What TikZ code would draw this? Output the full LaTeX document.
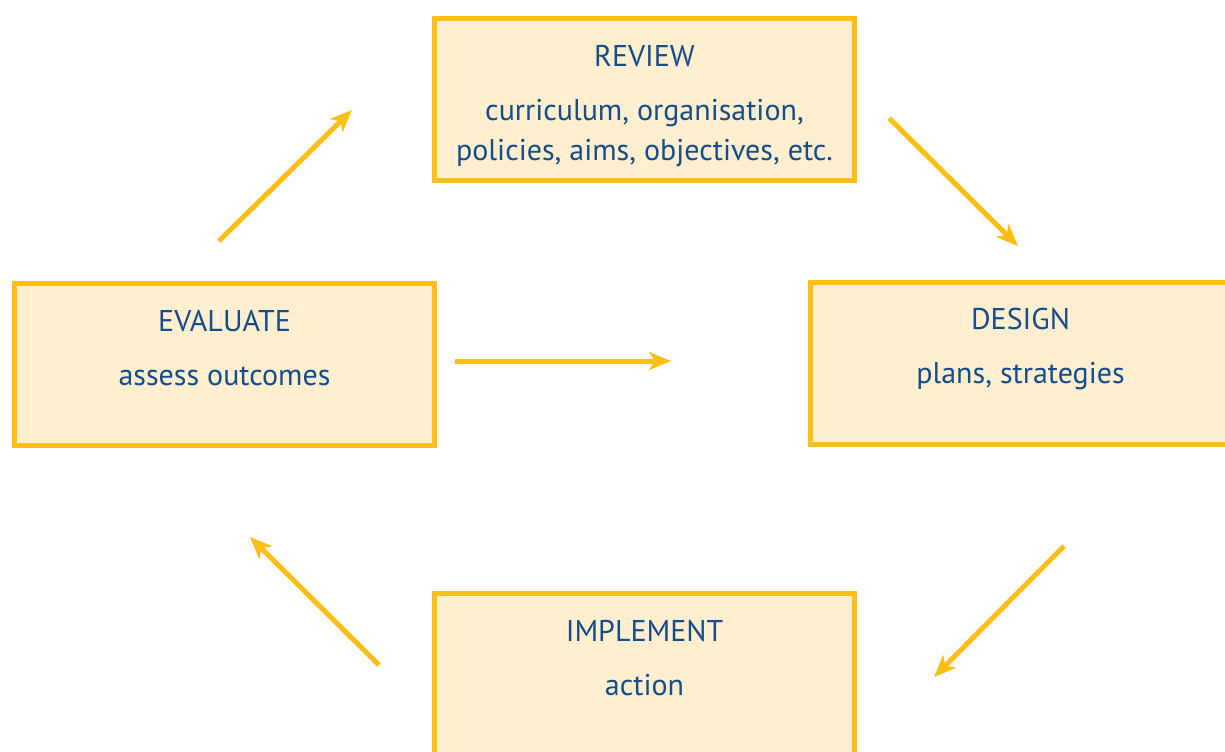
\documentclass[tikz,border=0pt]{standalone}
\usepackage{fontspec}
\setmainfont{PT Sans}
\usetikzlibrary{arrows.meta, positioning}

\definecolor{gold}{RGB}{253,190,22}
\definecolor{cream}{RGB}{255,239,207}
\definecolor{navy}{RGB}{20,76,140}

\tikzset{
  stage/.style = {draw = gold, fill = cream, line width = 2.5pt, inner sep = 0pt,
                  text = navy, font = \fontsize{15}{20}\selectfont},
  cyc/.style = {draw = gold, line width = 2.5pt, -{Stealth[length = 11pt, width = 9pt, inset = 3pt]}}
}
\newcommand{\stagetext}[2]{\begin{minipage}[c][81pt][t]{210pt}\centering
  \rule{0pt}{23.75pt}#1\\[7pt]#2\end{minipage}}

\begin{document}
\begin{tikzpicture} [x = 0.5pt, y = -0.5pt]
\useasboundingbox (0,0) rectangle (1225,751);
\clip (0,0) rectangle (1225,751);
\node[stage] (rev) at (644.5,99.5) {\stagetext{REVIEW}{curriculum, organisation,\\ policies, aims, objectives, etc.}};
\node[stage] (des) at (1020.5,363) {\stagetext{DESIGN}{plans, strategies}};
\node[stage] (imp) at (644.5,674.5) {\stagetext{IMPLEMENT}{action}};
\node[stage] (eva) at (224.5,364.5) {\stagetext{EVALUATE}{assess outcomes}};
\coordinate (a1) at (219,241);   \coordinate (b1) at (352,110);
\coordinate (a2) at (889,118);   \coordinate (b2) at (1018,246);
\coordinate (a3) at (1064,546);  \coordinate (b3) at (934,677);
\coordinate (a4) at (379,665);   \coordinate (b4) at (250,537);
\coordinate (a5) at (455,361);   \coordinate (b5) at (671,361);
\draw[cyc] (a1) -- (b1);
\draw[cyc] (a2) -- (b2);
\draw[cyc] (a3) -- (b3);
\draw[cyc] (a4) -- (b4);
\draw[cyc] (a5) -- (b5);
\end{tikzpicture}
\end{document}
